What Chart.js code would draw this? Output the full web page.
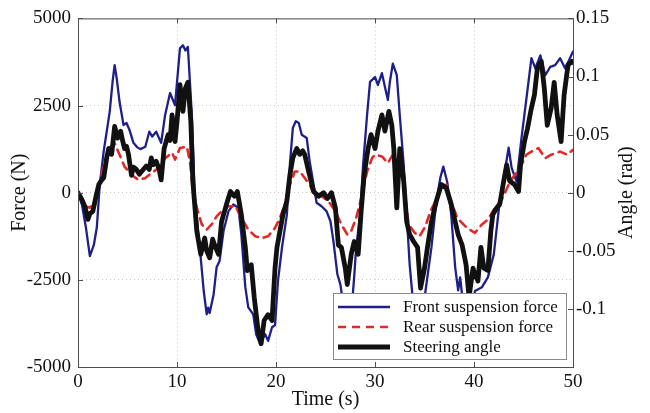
<!DOCTYPE html>
<html>
<head>
<meta charset="utf-8">
<script src="https://cdn.jsdelivr.net/npm/chart.js@4.4.0/dist/chart.umd.min.js"></script>
<style>
  html, body { margin: 0; padding: 0; background: #fff; }
</style>
</head>
<body>
<canvas id="chart" width="650" height="413"></canvas>
<script>
// ========================== DATA ==========================
const frontTime = [0,0.4,0.8,1.2,1.6,1.9,2.2,2.6,2.9,3.2,3.5,3.7,3.9,4.2,4.6,4.9,5.2,5.6,6.0,6.3,6.8,7.2,7.5,7.9,8.4,8.8,9.3,9.8,10.3,10.6,10.85,11.1,11.5,11.8,12.3,12.7,13.0,13.15,13.3,13.7,14.0,14.3,14.7,15.2,15.7,16.2,16.5,16.9,17.2,17.7,18.0,18.4,18.9,19.2,19.6,19.9,20.2,20.6,21.1,21.4,21.7,22.0,22.3,22.6,23.1,23.4,23.8,24.1,24.6,25.1,25.5,25.8,26.2,26.5,26.8,27.2,27.6,27.9,28.1,28.5,28.8,29.2,29.5,30.0,30.3,30.7,31.0,31.3,31.5,31.8,32.2,32.5,32.9,33.2,33.5,33.8,34.3,34.7,35.1,35.7,36.2,36.6,36.9,37.3,37.7,38.1,38.4,38.6,38.9,39.3,39.7,40.1,40.8,41.4,42.0,42.3,42.6,43.0,43.5,43.8,44.3,44.8,45.3,45.8,46.2,46.7,47.2,47.7,48.2,48.7,49.2,49.6,50];
const frontForce = [0,-350,-1000,-1820,-1500,-1000,230,1200,1750,2320,3200,3660,3300,2600,1940,2000,1800,1430,1300,1250,1320,1750,1610,1750,1430,2230,2860,2510,4140,4230,4080,4180,2230,-150,-1570,-2820,-3490,-3300,-3450,-2910,-2140,-1960,-1100,-530,-340,-430,-1200,-2710,-3290,-3490,-4060,-4340,-4060,-4250,-3860,-3800,-2530,-1580,-630,800,1860,2050,2000,1660,1570,900,230,-290,-390,-530,-820,-1390,-2340,-2630,-3200,-3900,-3500,-2400,-1570,-630,800,2230,3180,3320,3090,3430,3040,2660,3180,3700,3370,2230,800,-630,-2060,-3000,-3900,-3700,-2820,-1570,-250,430,750,300,-630,-2140,-2800,-2430,-3200,-3900,-3500,-2820,-2710,-2430,-1770,-1000,-250,430,1290,710,320,1570,2710,3860,3570,3940,3370,3610,3660,3860,3570,3800,4050];

const rearTime = [0,0.7,1.2,1.7,2.2,2.7,3.2,3.7,4.2,4.7,5.4,6.1,6.8,7.4,8.1,8.8,9.5,9.8,10.3,11.0,11.3,11.6,12.0,12.5,13.0,13.5,14.0,14.5,15.2,15.9,16.5,17.2,17.9,18.6,19.2,19.9,20.4,20.9,21.4,21.9,22.4,22.9,23.4,23.9,24.6,25.3,26.0,26.6,27.2,27.6,28.1,28.7,29.2,29.7,30.0,30.7,31.3,31.8,32.4,32.9,33.4,34.0,34.5,35.1,35.6,36.1,36.7,37.2,37.7,38.3,38.8,39.3,39.8,40.1,40.8,41.4,42.1,42.8,43.5,44.1,44.8,45.3,45.8,46.5,47.2,47.8,48.7,49.4,50];
const rearForce = [0,-390,-430,-250,320,900,1290,1420,1090,750,510,370,420,560,700,990,1150,950,1280,1320,900,130,-430,-910,-1060,-910,-680,-530,-390,-390,-720,-1060,-1250,-1300,-1250,-1010,-720,-340,230,610,610,420,230,-60,-100,-250,-530,-910,-1200,-1100,-720,-60,610,990,1090,1040,850,1090,900,230,-910,-1150,-1250,-960,-530,-250,190,230,-250,-720,-870,-1010,-1100,-1150,-910,-770,-440,-200,230,510,800,1090,1180,1280,990,1090,1180,1090,1230];

const steerTime = [0,0.4,0.7,1.0,1.2,1.5,1.8,2.1,2.4,2.6,2.9,3.1,3.4,3.7,4.0,4.3,4.5,4.7,4.9,5.1,5.4,5.6,5.9,6.2,6.4,6.7,6.9,7.2,7.4,7.6,7.9,8.2,8.4,8.7,9.1,9.3,9.5,9.8,10.0,10.3,10.6,10.85,11.1,11.4,11.6,12.0,12.4,12.8,13.0,13.3,13.6,13.8,14.2,14.5,15.0,15.4,15.8,16.1,16.5,16.9,17.1,17.5,17.8,18.2,18.5,18.8,19.2,19.6,19.9,20.1,20.4,20.7,21.1,21.4,21.7,22.1,22.4,22.7,22.9,23.3,23.8,24.3,24.8,25.2,25.6,26.0,26.3,26.6,27.0,27.2,27.6,27.9,28.3,28.6,28.9,29.3,29.6,30.0,30.3,30.7,31.0,31.4,31.7,31.9,32.2,32.5,32.9,33.2,33.5,33.9,34.3,34.6,35.0,35.3,35.7,36.2,36.7,37.2,37.7,38.1,38.4,38.8,39.2,39.5,39.9,40.1,40.4,40.7,41.0,41.4,41.7,41.9,42.3,42.6,43.0,43.3,43.6,44.1,44.5,44.7,45.1,45.4,45.8,46.1,46.4,46.8,47.1,47.4,47.8,48.1,48.4,48.8,49.1,49.5,49.9,50];
const steerAngle = [0,-0.006,-0.012,-0.023,-0.018,-0.016,-0.004,0.007,0.011,0.013,0.030,0.038,0.033,0.057,0.047,0.053,0.045,0.038,0.040,0.033,0.015,0.022,0.020,0.016,0.018,0.021,0.023,0.020,0.030,0.024,0.027,0.020,0.011,0.038,0.050,0.045,0.067,0.044,0.061,0.093,0.070,0.090,0.095,0.061,0.010,-0.033,-0.053,-0.039,-0.050,-0.056,-0.040,-0.045,-0.053,-0.025,-0.010,0.001,-0.003,0.001,-0.019,-0.047,-0.067,-0.062,-0.090,-0.119,-0.130,-0.110,-0.105,-0.110,-0.065,-0.047,-0.033,-0.019,-0.007,0.015,0.030,0.038,0.033,0.036,0.033,0.018,0.001,-0.003,0.000,-0.005,0.000,-0.013,-0.045,-0.047,-0.065,-0.079,-0.053,-0.042,-0.053,-0.016,0.015,0.038,0.050,0.038,0.053,0.067,0.053,0.070,0.058,0.038,-0.013,0.038,0.010,-0.025,-0.036,-0.042,-0.047,-0.082,-0.065,-0.047,-0.025,-0.007,0.007,0.004,-0.010,-0.025,-0.036,-0.045,-0.062,-0.090,-0.065,-0.070,-0.076,-0.047,-0.065,-0.067,-0.033,-0.019,-0.013,-0.010,0.010,0.024,0.010,0.007,0.001,0.024,0.044,0.055,0.073,0.084,0.107,0.113,0.090,0.058,0.073,0.095,0.067,0.044,0.084,0.110,0.113,0.112];

const timeTicks = [0, 10, 20, 30, 40, 50];
const forceTicks = [-5000, -2500, 0, 2500, 5000];
const angleTicks = [-0.1, -0.05, 0, 0.05, 0.1, 0.15];

// ========================== HELPERS ==========================
const SERIF = "'Liberation Serif', 'DejaVu Serif', serif";
const AXIS_COLOR = "#4d4d4d";

function pairs(xs, ys){
  return xs.map((x, i) => ({ x: x, y: ys[i] }));
}

// ========================== PLUGINS ==========================
// box + inward tick marks, MATLAB style
const framePlugin = {
  id: "frame",
  afterDraw(chart){
    const ctx = chart.ctx;
    const a = chart.chartArea;
    const sx = chart.scales.x, sl = chart.scales.yForce, sr = chart.scales.yAngle;
    ctx.save();
    ctx.setLineDash([]);
    ctx.strokeStyle = AXIS_COLOR;
    ctx.lineWidth = 1;
    ctx.strokeRect(a.left + 0.5, a.top + 0.5, a.right - a.left, a.bottom - a.top);
    ctx.beginPath();
    timeTicks.forEach(t => {
      const px = Math.round(sx.getPixelForValue(t)) + 0.5;
      ctx.moveTo(px, a.bottom); ctx.lineTo(px, a.bottom - 5);
      ctx.moveTo(px, a.top); ctx.lineTo(px, a.top + 5);
    });
    forceTicks.forEach(v => {
      const py = Math.round(sl.getPixelForValue(v)) + 0.5;
      ctx.moveTo(a.left, py); ctx.lineTo(a.left + 5, py);
    });
    angleTicks.forEach(v => {
      const py = Math.round(sr.getPixelForValue(v)) + 0.5;
      ctx.moveTo(a.right, py); ctx.lineTo(a.right - 5, py);
    });
    ctx.stroke();

    // right axis title, reading bottom to top
    ctx.fillStyle = "#111";
    ctx.font = "20px " + SERIF;
    ctx.textAlign = "center";
    ctx.textBaseline = "middle";
    ctx.translate(627, (a.top + a.bottom) / 2);
    ctx.rotate(-Math.PI / 2);
    ctx.fillText("Angle (rad)", 0, 0);
    ctx.restore();
  }
};

// legend box inside the plot, lower right
const legendPlugin = {
  id: "boxLegend",
  afterDatasetsDraw(chart){
    const ctx = chart.ctx;
    const a = chart.chartArea;
    const w = 233, h = 66;
    const x0 = a.right - 7 - w, y0 = a.bottom - 8 - h;
    ctx.save();
    ctx.fillStyle = "#fff";
    ctx.fillRect(x0, y0, w, h);
    ctx.strokeStyle = "#8c8c8c";
    ctx.lineWidth = 1;
    ctx.setLineDash([]);
    ctx.strokeRect(x0 + 0.5, y0 + 0.5, w, h);
    ctx.font = "17px " + SERIF;
    ctx.textBaseline = "middle";
    ctx.textAlign = "left";
    chart.data.datasets.forEach((ds, i) => {
      const y = y0 + 14 + i * 20;
      ctx.beginPath();
      ctx.strokeStyle = ds.borderColor;
      ctx.lineWidth = ds.borderWidth;
      ctx.setLineDash(ds.borderDash || []);
      ctx.moveTo(x0 + 5, y);
      ctx.lineTo(x0 + 57, y);
      ctx.stroke();
      ctx.fillStyle = "#111";
      ctx.fillText(ds.label, x0 + 70, y + 1);
    });
    ctx.restore();
  }
};

// ========================== CHART ==========================
const tickFont = { family: SERIF, size: 19 };

new Chart(document.getElementById("chart").getContext("2d"), {
  type: "line",
  data: {
    datasets: [
      {
        label: "Front suspension force",
        data: pairs(frontTime, frontForce),
        yAxisID: "yForce",
        borderColor: "#1f1f8a",
        borderWidth: 2.3,
        order: 2
      },
      {
        label: "Rear suspension force",
        data: pairs(rearTime, rearForce),
        yAxisID: "yForce",
        borderColor: "#e02a2a",
        borderWidth: 2.6,
        borderDash: [8, 6],
        order: 1
      },
      {
        label: "Steering angle",
        data: pairs(steerTime, steerAngle),
        yAxisID: "yAngle",
        borderColor: "#111111",
        borderWidth: 4.8,
        order: 0
      }
    ]
  },
  options: {
    responsive: false,
    animation: false,
    devicePixelRatio: 1,
    layout: { padding: { top: 18, left: 0, right: 0, bottom: 0 } },
    elements: {
      point: { radius: 0 },
      line: { tension: 0, fill: false, borderJoinStyle: "round", borderCapStyle: "round" }
    },
    plugins: { legend: { display: false }, tooltip: { enabled: false } },
    scales: {
      x: {
        type: "linear",
        min: 0, max: 50,
        afterBuildTicks: s => { s.ticks = timeTicks.map(v => ({ value: v })); },
        afterFit: s => { s.height = 46; },
        ticks: { font: tickFont, color: "#111", padding: 4, maxRotation: 0 },
        grid: { color: "#c8c8c8", drawTicks: false },
        border: { display: false, dash: [1, 3] },
        title: { display: true, text: "Time (s)", font: { family: SERIF, size: 20 }, color: "#111", padding: { top: 0, bottom: 1 } }
      },
      yForce: {
        type: "linear",
        position: "left",
        min: -5000, max: 5000,
        afterBuildTicks: s => { s.ticks = forceTicks.map(v => ({ value: v })); },
        afterFit: s => { s.width = 78; },
        ticks: { font: tickFont, color: "#111", padding: 7, callback: v => String(v) },
        grid: { color: "#c8c8c8", drawTicks: false },
        border: { display: false, dash: [1, 3] },
        title: { display: true, text: "Force (N)", font: { family: SERIF, size: 20 }, color: "#111", padding: { top: 8, bottom: 0 } }
      },
      yAngle: {
        type: "linear",
        position: "right",
        min: -0.15, max: 0.15,
        afterBuildTicks: s => { s.ticks = angleTicks.map(v => ({ value: v })); },
        afterFit: s => { s.width = 77; },
        ticks: { font: tickFont, color: "#111", padding: 3, callback: v => String(parseFloat(v.toFixed(2))) },
        grid: { display: false, drawTicks: false },
        border: { display: false }
      }
    }
  },
  plugins: [legendPlugin, framePlugin]
});
</script>
</body>
</html>
